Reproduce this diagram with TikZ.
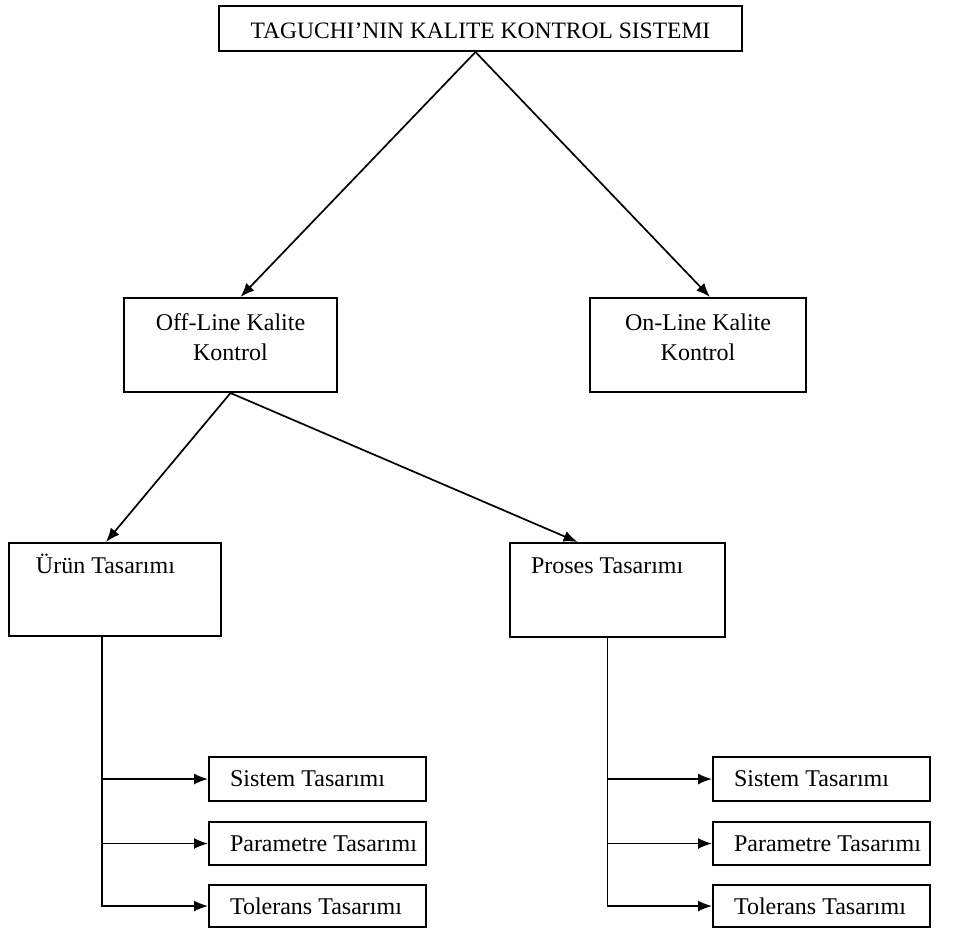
\documentclass[tikz,border=0pt]{standalone}
\usepackage{fontspec}
\setmainfont{Liberation Serif}
\usepackage{tikz}
\usetikzlibrary{calc, arrows.meta, positioning}

\begin{document}
\begin{tikzpicture}[x=1pt, y=-1pt, font=\fontsize{24}{30}\selectfont,
    kutu/.style={draw, line width=2pt, anchor=north west, inner sep=0pt},
    ok/.style={-{Latex[length=14pt,width=11pt]}, line width=1.7pt}]
    \useasboundingbox (0,0) rectangle (955,948);

    % Ana başlık
    \node[kutu] (baslik) at (218,5) {\parbox[b][45pt][t]{523pt}{\centering\fontsize{23.5}{30}\selectfont\rule{0pt}{32pt}TAGUCHI’NIN KALITE KONTROL SISTEMI}};

    % Off-line / On-line
    \node[kutu] (offline) at (123,297) {\parbox[b][94pt][t]{213pt}{\centering\rule{0pt}{32pt}Off-Line Kalite\\Kontrol}};
    \node[kutu] (online) at (589,297) {\parbox[b][94pt][t]{216pt}{\centering\rule{0pt}{32pt}On-Line Kalite\\Kontrol}};

    % Ürün ve proses
    \node[kutu] (urun) at (8,542) {\parbox[b][93pt][t]{212pt}{\hspace*{27pt}\rule{0pt}{30pt}Ürün Tasarımı}};
    \node[kutu] (proses) at (509,542) {\parbox[b][94pt][t]{215pt}{\hspace*{21pt}\rule{0pt}{30pt}Proses Tasarımı}};

    % Oklar
    \draw[ok] ([xshift=-5pt]baslik.south) -- ([xshift=10pt]offline.north);
    \draw[ok] ([xshift=-5pt]baslik.south) -- ([xshift=12pt]online.north);
    \draw[ok] (offline.south) -- ([xshift=-9pt]urun.north);
    \draw[ok] (offline.south) -- ([xshift=-40pt]proses.north);

    % Alt kutular ve dallar
    \foreach \on/\x/\ust/\kay in {u/208/urun/-13, p/712/proses/-10} {
        \foreach \ad/\y/\h/\yazi in {sistem/756/44/Sistem Tasarımı, param/821/43/Parametre Tasarımı, tol/884/42/Tolerans Tasarımı} {
            \node[kutu] (\on\ad) at (\x,\y) {\parbox[b][\h pt][c]{217pt}{\hspace*{21pt}\yazi}};
            \draw[ok] ([xshift=\kay pt]\ust.south) |- (\on\ad.west);
        }
    }
\end{tikzpicture}
\end{document}
